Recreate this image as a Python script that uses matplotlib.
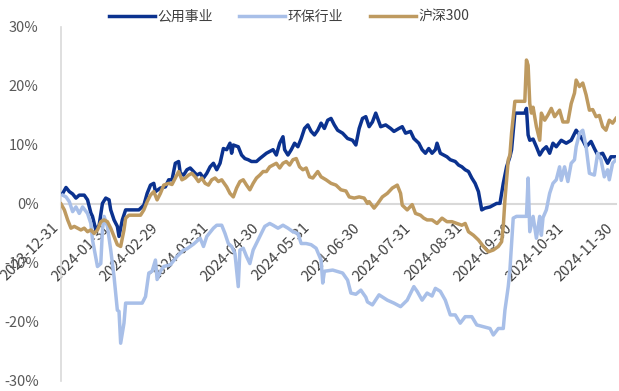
import pandas as pd
import matplotlib
matplotlib.use('Agg')
import matplotlib.pyplot as plt
from matplotlib.ticker import FuncFormatter

plt.rcParams['font.family'] = ['Noto Sans CJK SC', 'DejaVu Sans']

START = pd.Timestamp('2023-12-31')

# 累计涨跌幅(%),横轴为距 2023-12-31 的天数
gy_days = [1, 3, 5, 7, 9, 11, 14, 16, 18, 19, 21, 23, 25, 27, 29, 30, 32, 34, 35, 37, 39, 47, 50, 52, 54, 56, 57,
           60, 63, 65, 67, 69, 71, 72, 74, 76, 78, 80, 82, 84, 86, 88, 90, 92, 94, 96, 98, 100, 102, 103, 104,
           107, 109, 111, 113, 115, 118, 120, 124, 126, 128, 130, 132, 134, 135, 137, 139, 141, 143, 145, 147,
           149, 151, 153, 155, 157, 159, 161, 163, 165, 167, 170, 173, 176, 178, 180, 182, 184, 186, 188, 190,
           193, 196, 199, 201, 204, 206, 208, 211, 213, 216, 218, 220, 222, 224, 226, 227, 229, 231, 233, 235,
           238, 240, 242, 244, 246, 248, 250, 252, 254, 256, 259, 263, 265, 267, 269, 271, 272, 274, 280, 281,
           282, 283, 285, 287, 289, 291, 293, 295, 297, 299, 302, 305, 308, 311, 313, 315, 317, 320, 322, 324,
           327, 330, 332, 335]
gy_vals = [1.8, 2.8, 2.1, 1.7, 1.0, 1.5, 1.5, 0.7, -1.5, -2.1, -4.4, -3.6, 0.1, 1.0, 0.7, -1.0, -2.7, -3.8, -5.5,
           -2.7, -1.0, -1.0, -0.2, 1.8, 3.2, 3.5, 2.1,
           2.7, 2.9, 4.1, 4.1, 6.9, 7.2, 5.2, 4.9, 5.8, 6.1, 5.5, 4.9, 5.2, 4.4, 5.2, 6.3, 6.9, 5.8, 6.9, 9.4,
           9.2, 10.3, 8.6, 10.0,
           9.7, 8.3, 7.7, 7.5, 7.2, 7.2, 7.7, 8.6, 8.9, 9.2, 8.3, 10.3, 11.4, 9.2, 8.3, 9.2, 10.3, 9.7, 11.1, 12.8,
           13.4, 12.3, 11.7, 12.5, 13.7, 12.8, 14.2, 14.5, 13.4, 12.5, 12.0, 11.1, 10.8, 10.0, 12.8, 14.5, 14.8,
           13.1, 13.9, 15.4,
           13.1, 13.4, 12.8, 12.3, 12.8, 13.1, 12.0, 12.3, 11.1, 10.3, 9.2, 8.6, 9.4, 8.6, 9.2, 10.3, 8.6, 8.3,
           8.0, 7.5,
           7.2, 6.6, 6.3, 5.8, 5.5, 4.4, 3.5, 2.1, -1.0, -0.7, -0.5, 0.1, 0.1, 3.5, 6.3, 8.0, 9.2, 15.4, 15.4, 16.2,
           11.7, 10.8, 11.0, 9.7, 8.3, 9.2, 9.7, 8.6, 10.3, 9.7, 10.8, 10.3, 10.8, 12.5, 11.7, 10.8, 9.7, 10.6,
           9.4, 8.3,
           8.6, 6.9, 8.0, 8.0]

hb_days = [1, 3, 5, 7, 9, 11, 13, 16, 18, 19, 22, 24, 25, 26, 28, 30, 32, 34, 35, 36, 38, 39, 49, 51, 53, 55, 57,
           58, 60, 62, 66, 70, 74, 76, 80, 84, 86, 88, 92, 94, 97, 99, 101, 103, 105, 107, 108, 110, 112, 114,
           116, 119, 121, 123, 126, 128, 131, 134, 137, 140, 143, 145, 148, 151, 154, 157, 158, 159, 164, 170,
           173, 175, 178, 181, 184, 185, 188, 192, 197, 201, 205, 209, 213, 215, 218, 221, 224, 226, 229, 232,
           235, 238, 241, 244, 248, 251, 255, 259, 261, 264, 267, 268, 270, 271, 273, 275, 281, 282, 283, 285,
           287, 289, 290, 291, 293, 295, 297, 299, 301, 302, 304, 306, 308, 310, 311, 313, 315, 317, 319, 322,
           324, 326, 328, 330, 331, 333, 335]
hb_vals = [1.5, 1.2, 0.4, -1.3, -0.5, -1.6, -0.5, -1.6, -3.3, -6.1, -10.6, -10.1, -4.4, -2.1, -3.8, -7.8, -12.3,
           -18.0, -18.2, -23.6, -20.2, -16.8, -16.8, -15.7, -11.7, -11.4, -9.5,
           -12.8, -11.4, -10.6, -10.3, -8.9, -7.8, -7.6, -6.8, -5.8, -7.2, -5.5, -4.1, -3.6, -3.6, -5.0, -6.7,
           -7.2, -8.4, -14.0, -7.8, -7.5, -8.9, -10.1,
           -7.8, -6.1, -5.0, -3.8, -3.3, -3.6, -4.1, -3.6, -4.1, -4.7, -5.0, -6.7, -6.7, -6.9, -7.5, -9.5, -13.4,
           -11.4, -11.2, -11.7,
           -12.9, -15.1, -15.3, -14.6, -15.8, -16.6, -17.1, -15.4, -16.3, -16.8, -17.4, -16.3, -14.0, -14.8,
           -16.3, -15.1, -15.6, -14.3, -14.8, -16.3,
           -18.8, -18.8, -20.2, -19.1, -19.1, -20.5, -20.8, -21.1, -22.2, -21.1, -21.1, -18.0, -14.0, -11.2,
           -2.4, -2.1, -2.1, 4.4, -4.7, -2.1,
           -5.8, -2.1, -5.3, -2.3, -1.0, 1.8, 3.5, 4.1, 6.3, 4.0, 6.3, 3.8, 6.9, 7.5, 9.7, 12.0, 12.5, 9.7, 5.2,
           4.9,
           8.6, 7.5, 4.6, 5.8, 4.1, 6.9, 7.5]

hs_days = [0, 2, 4, 6, 8, 10, 12, 14, 16, 18, 20, 22, 24, 26, 28, 30, 32, 34, 36, 38, 39, 41, 48, 50, 52, 54, 56,
           58, 60, 62, 65, 67, 69, 71, 73, 75, 77, 79, 81, 83, 85, 87, 89, 91, 93, 95, 97, 100, 102, 104, 106,
           108, 110, 112, 114, 116, 118, 120, 122, 124, 126, 130, 132, 134, 136, 138, 140, 142, 144, 146, 148,
           150, 152, 155, 157, 160, 163, 166, 169, 172, 174, 177, 180, 183, 185, 186, 189, 191, 194, 197, 200,
           203, 205, 206, 209, 212, 214, 217, 219, 221, 224, 227, 230, 233, 236, 239, 242, 244, 246, 249, 252,
           255, 258, 261, 264, 266, 267, 268, 270, 271, 272, 274, 280, 281, 282, 283, 284, 285, 287, 289, 290,
           292, 294, 296, 298, 301, 303, 306, 308, 310, 311, 313, 315, 317, 319, 321, 323, 325, 327, 329, 331,
           333, 335]
hs_vals = [0.0, -1.0, -2.7, -4.1, -3.8, -4.1, -4.4, -4.1, -4.7, -4.4, -5.0, -4.4, -3.0, -2.7, -3.0, -4.1, -5.5,
           -6.9, -7.2, -4.4, -2.4, -1.9, -1.9, -1.0, 0.4, 1.5, 2.1,
           0.7, 1.8, 3.2, 3.5, 3.3, 4.4, 5.5, 4.1, 4.4, 4.9, 5.2, 4.6, 3.8, 4.4, 3.5, 3.2, 4.1, 4.4, 3.8, 4.1,
           2.9, 1.8, 1.2, 2.7,
           3.8, 4.1, 3.2, 2.4, 3.5, 4.4, 4.9, 5.5, 5.5, 6.3, 6.9, 6.1, 6.9, 7.2, 6.6, 7.5, 7.7, 6.3, 5.8, 6.1,
           4.6, 4.4, 5.5, 4.6, 4.1, 3.5, 3.2, 2.4, 2.2, 1.2, 1.0, 1.2, 1.0, 0.1, 0.4, -0.7, 0.0, 1.2, 1.8, 2.7,
           3.2, 1.8, -0.2, -1.0, -0.1, -1.6, -1.9, -2.4, -2.7, -2.7, -3.3, -2.4, -3.0, -3.0, -3.3, -3.6, -3.3,
           -4.7, -5.3, -6.1,
           -7.2, -8.1, -7.8, -7.2, -6.4, -3.8, 0.7, 7.5, 8.3, 12.0, 17.4, 17.4, 24.4, 23.5, 17.0, 15.4, 16.4,
           13.1, 10.8, 15.4,
           14.2, 15.1, 16.2, 14.8, 15.9, 13.9, 13.9, 17.0, 18.8, 21.0, 19.9, 20.5, 18.5, 15.9, 16.0, 14.8, 15.0,
           13.1, 12.5, 14.2,
           13.7, 14.5]

series_names = ['公用事业', '环保行业', '沪深300']
series_colors = ['#0B328F', '#A8BFE8', '#BE9A60']
tick_dates = ['2023-12-31', '2024-01-31', '2024-02-29', '2024-03-31', '2024-04-30', '2024-05-31',
              '2024-06-30', '2024-07-31', '2024-08-31', '2024-09-30', '2024-10-31', '2024-11-30']


def to_dates(days):
    return START + pd.to_timedelta(days, unit='D')


fig = plt.figure(figsize=(6.19, 3.91), dpi=100)
ax = fig.add_axes([0.0986, 0.0256, 0.8964, 0.9054])

lines = []
for days, vals, name, color in zip([gy_days, hb_days, hs_days], [gy_vals, hb_vals, hs_vals],
                                   series_names, series_colors):
    ln, = ax.plot(to_dates(days), vals, color=color, linewidth=2.5, label=name,
                  solid_joinstyle='round', zorder=3)
    lines.append(ln)

# 横轴放在 0% 处
for s in ['top', 'right']:
    ax.spines[s].set_visible(False)
ax.spines['left'].set_color('#D9D9D9')
ax.spines['left'].set_linewidth(1.2)
ax.spines['bottom'].set_position(('data', 0))
ax.spines['bottom'].set_color('#D9D9D9')
ax.spines['bottom'].set_linewidth(1.5)

ax.set_xlim(START, pd.Timestamp('2024-11-30'))
ax.set_ylim(-30, 30)
ax.set_yticks(range(-30, 31, 10))
ax.yaxis.set_major_formatter(FuncFormatter(lambda v, p: f'{v:.0f}%'))

ax.set_xticks(pd.to_datetime(tick_dates))
ax.set_xticklabels(tick_dates)
ax.tick_params(axis='x', length=0, labelsize=10.5, labelcolor='#404040', pad=12)
ax.tick_params(axis='y', length=0, labelsize=10.5, labelcolor='#595959', pad=16)
plt.setp(ax.get_xticklabels(), rotation=45, ha='right', va='top')

fig.legend(handles=lines, loc='center', bbox_to_anchor=(0.467, 0.957), ncol=3, frameon=False,
           fontsize=10, handlelength=3.3, handletextpad=0.2, columnspacing=1.9,
           labelcolor='#404040')

fig.savefig('out.png', dpi=100)
